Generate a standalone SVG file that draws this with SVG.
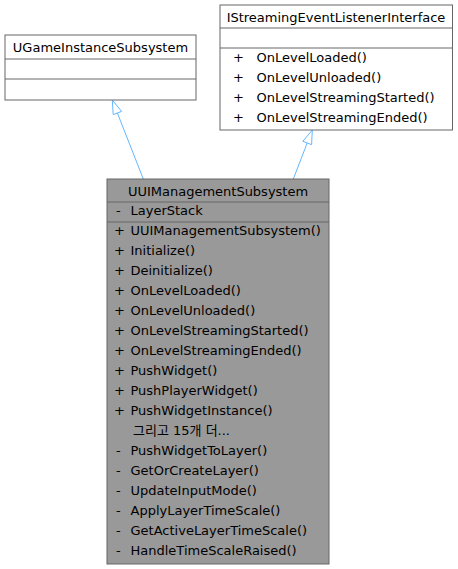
<svg xmlns="http://www.w3.org/2000/svg" width="458" height="569" viewBox="0 0 458 569">
<style>
.box{fill:#ffffff;stroke:#666666;stroke-width:1}
.main{fill:#999999;stroke:#666666;stroke-width:1}
.sep{stroke:#666666;stroke-width:1}
text{font-family:"DejaVu Sans","Noto Sans CJK KR",sans-serif;font-size:13px;fill:#000000}
.c{text-anchor:middle}
.edge{fill:none;stroke:#63b8ff;stroke-width:1}
.head{fill:#ffffff;stroke:#63b8ff;stroke-width:1}
</style>
<rect width="458" height="569" fill="#ffffff"/>
<g id="connectors">
<path class="edge" d="M143.3,179 L117.4,113"/>
<polygon class="head" points="112.3,100 121.6,111.4 113.2,114.6"/>
<path class="edge" d="M293.3,179 L307.2,143"/>
<polygon class="head" points="312.3,130 311.6,144.7 302.8,141.3"/>
</g>
<g id="UGameInstanceSubsystem">
<rect class="box" x="5" y="35" width="191" height="65"/>
<line class="sep" x1="5" y1="59" x2="196" y2="59"/>
<line class="sep" x1="5" y1="79" x2="196" y2="79"/>
<text class="c" x="100.5" y="52">UGameInstanceSubsystem</text>
</g>
<g id="IStreamingEventListenerInterface">
<rect class="box" x="220" y="5" width="232.5" height="125"/>
<line class="sep" x1="220" y1="28" x2="452.5" y2="28"/>
<line class="sep" x1="220" y1="48" x2="452.5" y2="48"/>
<text class="c" x="336" y="21.5">IStreamingEventListenerInterface</text>
<text x="233" y="61.5">+</text><text x="256.5" y="61.5">OnLevelLoaded()</text>
<text x="233" y="81.5">+</text><text x="256.5" y="81.5">OnLevelUnloaded()</text>
<text x="233" y="101.5">+</text><text x="256.5" y="101.5">OnLevelStreamingStarted()</text>
<text x="233" y="121.5">+</text><text x="256.5" y="121.5">OnLevelStreamingEnded()</text>
</g>
<g id="UUIManagementSubsystem">
<rect class="main" x="107" y="179" width="222" height="385"/>
<line class="sep" x1="107" y1="202" x2="329" y2="202"/>
<line class="sep" x1="107" y1="222" x2="329" y2="222"/>
<text class="c" x="218" y="196">UUIManagementSubsystem</text>
<text x="116" y="215">-</text><text x="130.5" y="215">LayerStack</text>
<text x="114" y="235">+</text><text x="130.5" y="235">UUIManagementSubsystem()</text>
<text x="114" y="255">+</text><text x="130.5" y="255">Initialize()</text>
<text x="114" y="275">+</text><text x="130.5" y="275">Deinitialize()</text>
<text x="114" y="295">+</text><text x="130.5" y="295">OnLevelLoaded()</text>
<text x="114" y="315">+</text><text x="130.5" y="315">OnLevelUnloaded()</text>
<text x="114" y="335">+</text><text x="130.5" y="335">OnLevelStreamingStarted()</text>
<text x="114" y="355">+</text><text x="130.5" y="355">OnLevelStreamingEnded()</text>
<text x="114" y="375">+</text><text x="130.5" y="375">PushWidget()</text>
<text x="114" y="395">+</text><text x="130.5" y="395">PushPlayerWidget()</text>
<text x="114" y="415">+</text><text x="130.5" y="415">PushWidgetInstance()</text>
<text x="133" y="435">그리고 15개 더...</text>
<text x="116" y="455">-</text><text x="130.5" y="455">PushWidgetToLayer()</text>
<text x="116" y="475">-</text><text x="130.5" y="475">GetOrCreateLayer()</text>
<text x="116" y="495">-</text><text x="130.5" y="495">UpdateInputMode()</text>
<text x="116" y="515">-</text><text x="130.5" y="515">ApplyLayerTimeScale()</text>
<text x="116" y="535">-</text><text x="130.5" y="535">GetActiveLayerTimeScale()</text>
<text x="116" y="555">-</text><text x="130.5" y="555">HandleTimeScaleRaised()</text>
</g>
</svg>
